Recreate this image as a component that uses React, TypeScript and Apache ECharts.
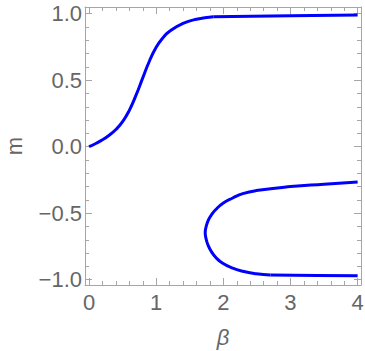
import React, { useEffect, useRef } from "react";
import * as echarts from "echarts";

// Upper branch (rising from 0)
const upperRise: [number, number][] = [
  [0, 0], [0.1, 0.024], [0.2, 0.052], [0.3, 0.086], [0.4, 0.129], [0.5, 0.188],
  [0.6, 0.273], [0.7, 0.387], [0.8, 0.517], [0.9, 0.644], [1.0, 0.747],
  [1.1, 0.818], [1.2, 0.867], [1.4, 0.927], [1.6, 0.958], [1.85, 0.977],
];
const upperFlat: [number, number][] = [[1.85, 0.977], [3.0, 0.985], [4.0, 0.99]];
// Lower C-shaped branch
const lowerC: [number, number][] = [
  [4.0, -0.265], [3.5, -0.282], [3.0, -0.3], [2.49, -0.33], [2.29, -0.353],
  [2.14, -0.386], [2.0, -0.424], [1.885, -0.474], [1.825, -0.511], [1.78, -0.549],
  [1.745, -0.599], [1.73, -0.645], [1.742, -0.69], [1.77, -0.737], [1.82, -0.787],
  [1.895, -0.837], [1.985, -0.875], [2.13, -0.912], [2.29, -0.937], [2.49, -0.955],
  [2.7, -0.965],
];
const lowerFlat: [number, number][] = [[2.7, -0.965], [3.4, -0.968], [4.0, -0.97]];

const xMajor = [0, 1, 2, 3, 4];
const xMinor = [0.2, 0.4, 0.6, 0.8, 1.2, 1.4, 1.6, 1.8, 2.2, 2.4, 2.6, 2.8, 3.2, 3.4, 3.6, 3.8];
const yMajor = [-1, -0.5, 0, 0.5, 1];
const yMinor = [-0.9, -0.8, -0.7, -0.6, -0.4, -0.3, -0.2, -0.1, 0.1, 0.2, 0.3, 0.4, 0.6, 0.7, 0.8, 0.9];

const FRAME = "#a6a6a6";
const LABEL = "#666666";
const FONT = "'Liberation Sans', Arial, sans-serif";
const BLUE = "#0000ff";

export default function App() {
  const ref = useRef<HTMLDivElement>(null);
  useEffect(() => {
    if (!ref.current) return;
    const chart = echarts.init(ref.current, undefined, { renderer: "svg" });
    const xBase = { type: "value", min: -0.06, max: 4.05, splitLine: { show: false } };
    const yBase = { type: "value", min: -1.04, max: 1.05, splitLine: { show: false } };
    const mkAxis = (base: any, position: string, values: number[], len: number, line: boolean, labels: any, extra: any = {}) => ({
      ...base,
      position,
      axisLine: { show: line, onZero: false, lineStyle: { color: FRAME, width: 1 } },
      axisTick: { show: true, inside: true, length: len, customValues: values, lineStyle: { color: FRAME, width: 1 } },
      axisLabel: labels,
      ...extra,
    });
    const noLabel = { show: false };
    const series = [upperRise, upperFlat, lowerC, lowerFlat].map((d, i) => ({
      type: "line",
      xAxisIndex: 0,
      yAxisIndex: 0,
      data: d,
      showSymbol: false,
      smooth: i === 0 || i === 2 ? 0.5 : false,
      lineStyle: { color: BLUE, width: 3 },
      silent: true,
    }));
    chart.setOption({
      animation: false,
      grid: { left: 85, top: 7, right: 4, bottom: 66, containLabel: false, outerBoundsMode: "none" },
      xAxis: [
        mkAxis(xBase, "bottom", xMajor, 7, true, {
          show: true, customValues: xMajor, color: LABEL, fontSize: 22, fontFamily: FONT, margin: 6,
          formatter: (v: number) => String(v),
        }, {
          name: "β", nameLocation: "middle", nameGap: 41,
          nameTextStyle: { color: LABEL, fontSize: 22, fontFamily: FONT, fontStyle: "italic" },
        }),
        mkAxis(xBase, "bottom", xMinor, 4, false, noLabel),
        mkAxis(xBase, "top", xMajor, 7, true, noLabel),
        mkAxis(xBase, "top", xMinor, 4, false, noLabel),
      ],
      yAxis: [
        mkAxis(yBase, "left", yMajor, 7, true, {
          show: true, customValues: yMajor, color: LABEL, fontSize: 22, fontFamily: FONT, margin: 3,
          formatter: (v: number) => (v < 0 ? "\u2212" + Math.abs(v).toFixed(1) : v.toFixed(1)),
        }, {
          name: "m", nameLocation: "middle", nameGap: 60, nameRotate: 90,
          nameTextStyle: { color: LABEL, fontSize: 22, fontFamily: FONT },
        }),
        mkAxis(yBase, "left", yMinor, 4, false, noLabel),
        mkAxis(yBase, "right", yMajor, 7, true, noLabel),
        mkAxis(yBase, "right", yMinor, 4, false, noLabel),
      ],
      series,
    });
    return () => chart.dispose();
  }, []);
  return <div ref={ref} style={{ width: 365, height: 351, position: "absolute", left: 0, top: 0 }} />;
}
